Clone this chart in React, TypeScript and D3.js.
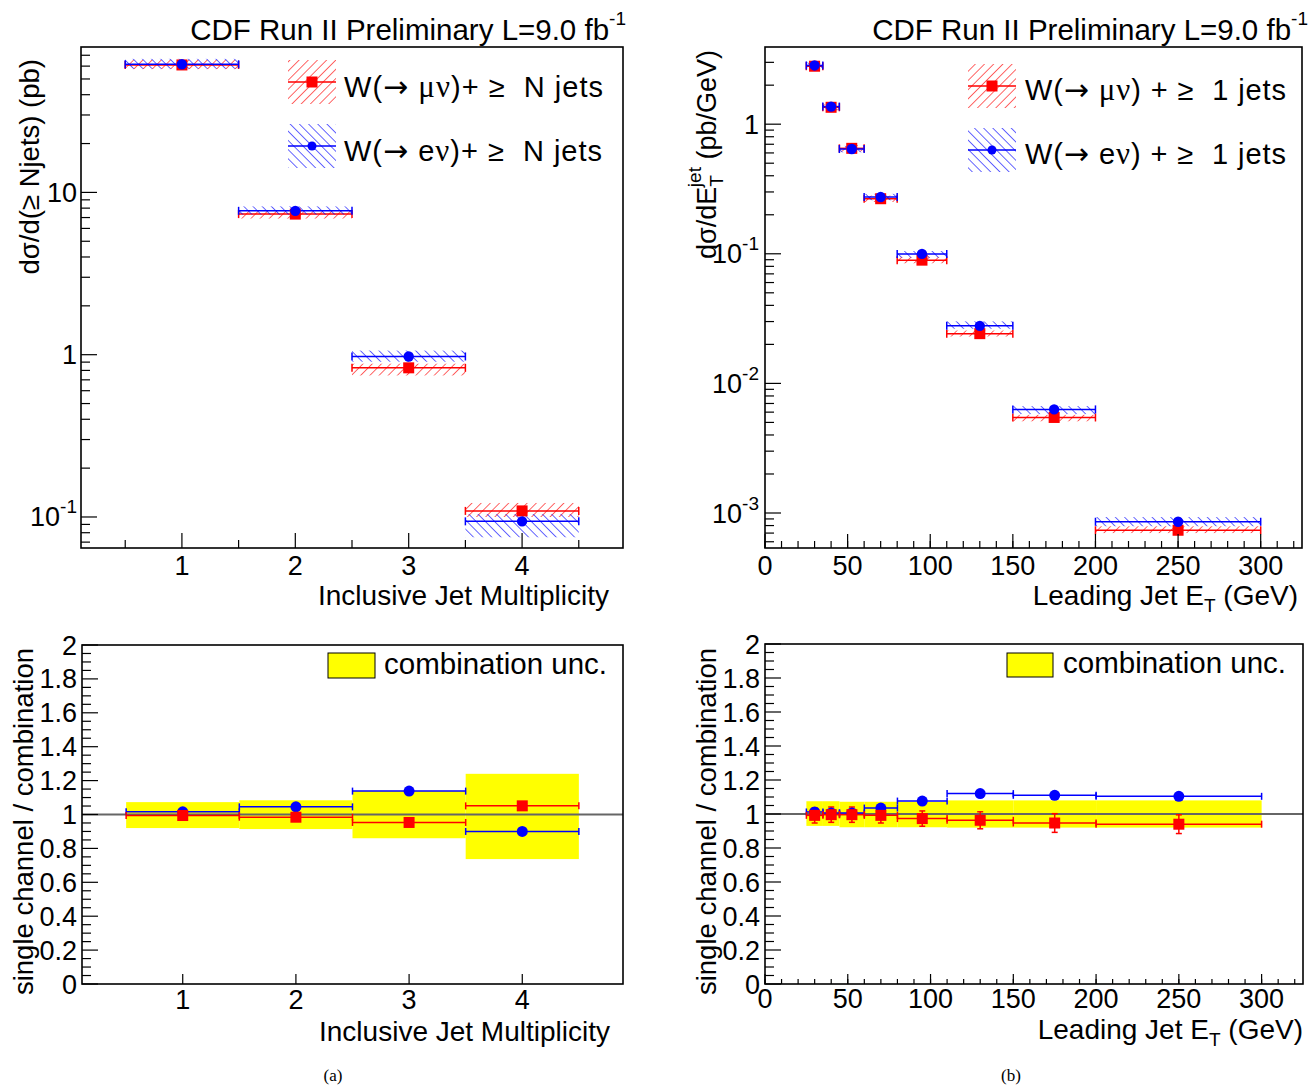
import React from "react";
import * as d3 from "d3";

// ---------------- DATA ----------------
// (a) inclusive jet multiplicity
const njetBins = [1, 2, 3, 4];
const njetMuXsec = [61.0, 7.35, 0.83, 0.109];
const njetMuLo = [57.5, 6.9, 0.745, 0.1];
const njetMuHi = [65.5, 7.72, 0.88, 0.122];
const njetElXsec = [61.6, 7.7, 0.975, 0.094];
const njetElLo = [57.8, 7.3, 0.905, 0.075];
const njetElHi = [66.5, 8.2, 1.06, 0.104];

const njetRatioEl = [1.016, 1.045, 1.138, 0.9];
const njetRatioMu = [0.994, 0.984, 0.953, 1.051];
const njetCombLo = [0.92, 0.914, 0.86, 0.737];
const njetCombHi = [1.073, 1.084, 1.138, 1.24];

// (b) leading jet ET
const etLo = [25, 35, 45, 60, 80, 110, 150, 200];
const etHi = [35, 45, 60, 80, 110, 150, 200, 300];
const etCenter = [30, 40, 52.5, 70, 95, 130, 175, 250];
const etMuXsec = [2.8, 1.35, 0.651, 0.266, 0.0893, 0.0242, 0.00546, 0.000736];
const etMuLo = [2.65, 1.28, 0.615, 0.251, 0.0845, 0.023, 0.0051, 0.0007];
const etMuHi = [2.95, 1.42, 0.69, 0.281, 0.0945, 0.0256, 0.00572, 0.00079];
const etElXsec = [2.84, 1.367, 0.643, 0.274, 0.0998, 0.0278, 0.0063, 0.000856];
const etElLo = [2.69, 1.29, 0.607, 0.259, 0.0935, 0.0264, 0.0058, 0.00079];
const etElHi = [2.99, 1.44, 0.68, 0.29, 0.105, 0.0301, 0.00668, 0.00093];

const etRatioEl = [1.012, 1.006, 1.006, 1.035, 1.076, 1.12, 1.11, 1.104];
const etRatioMu = [0.992, 0.996, 0.996, 0.992, 0.973, 0.963, 0.947, 0.94];
const etRatioMuErr = [0.045, 0.045, 0.045, 0.045, 0.045, 0.05, 0.055, 0.055];
const etCombLo = [0.93, 0.93, 0.922, 0.922, 0.922, 0.92, 0.92, 0.92];
const etCombHi = [1.075, 1.075, 1.072, 1.072, 1.072, 1.08, 1.08, 1.08];

// tick labels
const njetTickLabels = [1, 2, 3, 4];
const etTickLabels = [0, 50, 100, 150, 200, 250, 300];
const ratioTickLabels = [0, 0.2, 0.4, 0.6, 0.8, 1, 1.2, 1.4, 1.6, 1.8, 2];
const njetLogTickLabels = [10, 1, 0.1];
const etLogTickLabels = [1, 0.1, 0.01, 0.001];

const FONT = "'Liberation Sans', Arial, Helvetica, sans-serif";
const SERIF = "'Liberation Serif', 'DejaVu Serif', serif";
const ARROWF = "'DejaVu Sans', sans-serif";
const RED = "#ff0000";
const BLUE = "#0000ff";

type Fr = { left: number; right: number; top: number; bottom: number };

function logTicks(lo: number, hi: number) {
  const out: { v: number; major: boolean }[] = [];
  for (let k = Math.floor(Math.log10(lo)); k <= Math.ceil(Math.log10(hi)); k++) {
    for (let m = 1; m <= 9; m++) {
      const v = m * Math.pow(10, k);
      if (v >= lo && v <= hi) out.push({ v, major: m === 1 });
    }
  }
  return out;
}

function FrameRect({ f }: { f: Fr }) {
  return (
    <rect x={f.left} y={f.top} width={f.right - f.left} height={f.bottom - f.top}
      fill="none" stroke="#000" strokeWidth={1.6} />
  );
}

function XTicks({ f, x, majors, minors, majLen, minLen }: any) {
  return (
    <g stroke="#000" strokeWidth={1.2}>
      {minors.map((v: number, i: number) => (
        <line key={"m" + i} x1={x(v)} x2={x(v)} y1={f.bottom} y2={f.bottom - minLen} />
      ))}
      {majors.map((v: number, i: number) => (
        <line key={"M" + i} x1={x(v)} x2={x(v)} y1={f.bottom} y2={f.bottom - majLen} />
      ))}
    </g>
  );
}

function YTicksLog({ f, y }: any) {
  const [lo, hi] = y.domain();
  return (
    <g stroke="#000" strokeWidth={1.2}>
      {logTicks(lo, hi).map((t, i) => (
        <line key={i} x1={f.left} x2={f.left + (t.major ? 16 : 9)} y1={y(t.v)} y2={y(t.v)} />
      ))}
    </g>
  );
}

function YTicksLin({ f, y }: any) {
  const vals = d3.range(0, 41).map((i) => i * 0.05);
  return (
    <g stroke="#000" strokeWidth={1.2}>
      {vals.map((v, i) => (
        <line key={i} x1={f.left} x2={f.left + (i % 4 === 0 ? 16 : 9)} y1={y(v)} y2={y(v)} />
      ))}
    </g>
  );
}

function LogLabel({ x, y, v }: { x: number; y: number; v: number }) {
  const e = Math.round(Math.log10(v));
  if (e === 0) return <text x={x} y={y} textAnchor="end">1</text>;
  if (e === 1) return <text x={x} y={y} textAnchor="end">10</text>;
  return (
    <text x={x} y={y} textAnchor="end">
      10<tspan dy={-13} fontSize={19}>{String(e)}</tspan>
    </text>
  );
}

function HatchBand({ x0, x1, yv, ylo, yhi, color, pat }: any) {
  return (
    <g>
      <rect x={x0} y={yhi} width={x1 - x0} height={Math.max(ylo - yhi, 1)} fill={`url(#${pat})`} />
      <line x1={x0} x2={x1} y1={yv} y2={yv} stroke={color} strokeWidth={1.5} />
      <line x1={x0} x2={x0} y1={yv - 4} y2={yv + 4} stroke={color} strokeWidth={1.5} />
      <line x1={x1} x2={x1} y1={yv - 4} y2={yv + 4} stroke={color} strokeWidth={1.5} />
    </g>
  );
}

function Square({ cx, cy, s = 11 }: any) {
  return <rect x={cx - s / 2} y={cy - s / 2} width={s} height={s} fill={RED} />;
}
function Dot({ cx, cy, r = 5.2 }: any) {
  return <circle cx={cx} cy={cy} r={r} fill={BLUE} />;
}

function HErr({ x0, x1, yv, color }: any) {
  return (
    <g stroke={color} strokeWidth={1.5}>
      <line x1={x0} x2={x1} y1={yv} y2={yv} />
      <line x1={x0} x2={x0} y1={yv - 3.5} y2={yv + 3.5} />
      <line x1={x1} x2={x1} y1={yv - 3.5} y2={yv + 3.5} />
    </g>
  );
}

function VErr({ xv, y0, y1, color }: any) {
  return (
    <g stroke={color} strokeWidth={1.5}>
      <line x1={xv} x2={xv} y1={y0} y2={y1} />
      <line x1={xv - 3} x2={xv + 3} y1={y0} y2={y0} />
      <line x1={xv - 3} x2={xv + 3} y1={y1} y2={y1} />
    </g>
  );
}

function LegendText({ x, y, lep, tail, len }: { x: number; y: number; lep: string; tail: string; len: number }) {
  return (
    <text x={x} y={y} fontSize={29} style={{ whiteSpace: "pre" }} textLength={len} lengthAdjust="spacing">
      W(<tspan fontFamily={ARROWF} fontSize={30}>→</tspan>{" "}
      {lep === "mu" ? (
        <tspan fontFamily={SERIF} fontSize={31}>μν</tspan>
      ) : (
        <>e<tspan fontFamily={SERIF} fontSize={31}>ν</tspan></>
      )}
      {tail}
    </text>
  );
}

export default function App() {
  const TL: Fr = { left: 81, right: 623, top: 47, bottom: 548 };
  const TR: Fr = { left: 765, right: 1302, top: 47, bottom: 548 };
  const BL: Fr = { left: 82, right: 623, top: 645, bottom: 984 };
  const BR: Fr = { left: 765, right: 1303, top: 644, bottom: 984 };

  const xTL = d3.scaleLinear().domain([0.11, 4.89]).range([TL.left, TL.right]);
  const yTL = d3.scaleLog().domain([0.0644, 78.7]).range([TL.bottom, TL.top]);
  const xTR = d3.scaleLinear().domain([0, 325]).range([TR.left, TR.right]);
  const yTR = d3.scaleLog().domain([5.37e-4, 3.94]).range([TR.bottom, TR.top]);
  const xBL = d3.scaleLinear().domain([0.11, 4.89]).range([BL.left, BL.right]);
  const yBL = d3.scaleLinear().domain([0, 2]).range([BL.bottom, BL.top]);
  const xBR = d3.scaleLinear().domain([0, 325]).range([BR.left, BR.right]);
  const yBR = d3.scaleLinear().domain([0, 2]).range([BR.bottom, BR.top]);

  const fmtRatio = (v: number) => (Math.abs(v - Math.round(v)) < 1e-9 ? String(Math.round(v)) : v.toFixed(1));

  const etMinor = d3.range(0, 330, 10);
  const etMajor = d3.range(0, 330, 50);

  return (
    <div style={{ position: "absolute", left: 0, top: 0 }}>
      <svg width={1314} height={1087} style={{ display: "block", background: "#fff" }} fontFamily={FONT}>
        <defs>
          <pattern id="hatchRed" patternUnits="userSpaceOnUse" width={6.5} height={6.5} patternTransform="rotate(45)">
            <line x1={0} y1={0} x2={0} y2={6.5} stroke={RED} strokeWidth={1.2} />
          </pattern>
          <pattern id="hatchBlue" patternUnits="userSpaceOnUse" width={6.5} height={6.5} patternTransform="rotate(-45)">
            <line x1={0} y1={0} x2={0} y2={6.5} stroke={BLUE} strokeWidth={1.2} />
          </pattern>
        </defs>
        <rect x={0} y={0} width={1314} height={1087} fill="#fff" />

        {/* ================= TOP LEFT ================= */}
        <g>
          {njetBins.map((b, i) => (
            <HatchBand key={"rm" + i} x0={xTL(b - 0.5)} x1={xTL(b + 0.5)} yv={yTL(njetMuXsec[i])}
              ylo={yTL(njetMuLo[i])} yhi={yTL(njetMuHi[i])} color={RED} pat="hatchRed" />
          ))}
          {njetBins.map((b, i) => (
            <HatchBand key={"be" + i} x0={xTL(b - 0.5)} x1={xTL(b + 0.5)} yv={yTL(njetElXsec[i])}
              ylo={yTL(njetElLo[i])} yhi={yTL(njetElHi[i])} color={BLUE} pat="hatchBlue" />
          ))}
          {njetBins.map((b, i) => (
            <Square key={"sm" + i} cx={xTL(b)} cy={yTL(njetMuXsec[i])} />
          ))}
          {njetBins.map((b, i) => (
            <Dot key={"de" + i} cx={xTL(b)} cy={yTL(njetElXsec[i])} />
          ))}
          <XTicks f={TL} x={xTL} majors={njetTickLabels} minors={[0.5, 1.5, 2.5, 3.5, 4.5]} majLen={15} minLen={8} />
          <YTicksLog f={TL} y={yTL} />
          <FrameRect f={TL} />
          <g fontSize={27}>
            {njetTickLabels.map((v) => (
              <text key={v} x={xTL(v)} y={575} textAnchor="middle">{v}</text>
            ))}
            {njetLogTickLabels.map((v) => (
              <LogLabel key={v} x={77} y={yTL(v) + 9.5} v={v} />
            ))}
          </g>
          <text x={609} y={605} textAnchor="end" fontSize={28}>Inclusive Jet Multiplicity</text>
          <text transform="translate(39,59) rotate(-90)" textAnchor="end" fontSize={27.5}>dσ/d(≥ Njets) (pb)</text>
          <text x={626} y={40} textAnchor="end" fontSize={29.5}>
            CDF Run II Preliminary L=9.0 fb<tspan dy={-15} fontSize={19}>-1</tspan>
          </text>
          {/* legend */}
          <rect x={288} y={60} width={48} height={44} fill="url(#hatchRed)" />
          <line x1={288} x2={336} y1={82} y2={82} stroke={RED} strokeWidth={1.5} />
          <Square cx={312} cy={82} />
          <LegendText x={344} y={97} lep="mu" tail={")+ ≥  N jets"} len={259} />
          <rect x={288} y={124} width={48} height={44} fill="url(#hatchBlue)" />
          <line x1={288} x2={336} y1={146} y2={146} stroke={BLUE} strokeWidth={1.5} />
          <Dot cx={312} cy={146} r={4.5} />
          <LegendText x={344} y={161} lep="e" tail={")+ ≥  N jets"} len={258} />
        </g>

        {/* ================= TOP RIGHT ================= */}
        <g>
          {etCenter.map((c, i) => (
            <HatchBand key={"rm" + i} x0={xTR(etLo[i])} x1={xTR(etHi[i])} yv={yTR(etMuXsec[i])}
              ylo={yTR(etMuLo[i])} yhi={yTR(etMuHi[i])} color={RED} pat="hatchRed" />
          ))}
          {etCenter.map((c, i) => (
            <HatchBand key={"be" + i} x0={xTR(etLo[i])} x1={xTR(etHi[i])} yv={yTR(etElXsec[i])}
              ylo={yTR(etElLo[i])} yhi={yTR(etElHi[i])} color={BLUE} pat="hatchBlue" />
          ))}
          {etCenter.map((c, i) => (
            <Square key={"sm" + i} cx={xTR(c)} cy={yTR(etMuXsec[i])} />
          ))}
          {etCenter.map((c, i) => (
            <Dot key={"de" + i} cx={xTR(c)} cy={yTR(etElXsec[i])} />
          ))}
          <XTicks f={TR} x={xTR} majors={etMajor} minors={etMinor} majLen={14} minLen={7} />
          <YTicksLog f={TR} y={yTR} />
          <FrameRect f={TR} />
          <g fontSize={27}>
            {etTickLabels.map((v) => (
              <text key={v} x={xTR(v)} y={575} textAnchor="middle">{v}</text>
            ))}
            {etLogTickLabels.map((v) => (
              <LogLabel key={v} x={759} y={yTR(v) + 9.5} v={v} />
            ))}
          </g>
          <text x={1298} y={605} textAnchor="end" fontSize={28}>
            Leading Jet E<tspan dy={7} fontSize={19}>T</tspan><tspan dy={-7}> (GeV)</tspan>
          </text>
          <text transform="translate(716,50) rotate(-90)" textAnchor="end" fontSize={27}>
            dσ/dE<tspan dy={7} fontSize={19}>T</tspan><tspan dx={-12} dy={-22} fontSize={19}>jet</tspan><tspan dy={15}>  (pb/GeV)</tspan>
          </text>
          <text x={1308} y={40} textAnchor="end" fontSize={29.5}>
            CDF Run II Preliminary L=9.0 fb<tspan dy={-15} fontSize={19}>-1</tspan>
          </text>
          {/* legend */}
          <rect x={968} y={64} width={48} height={44} fill="url(#hatchRed)" />
          <line x1={968} x2={1016} y1={86} y2={86} stroke={RED} strokeWidth={1.5} />
          <Square cx={992} cy={86} />
          <LegendText x={1025} y={100} lep="mu" tail={") + ≥  1 jets"} len={261} />
          <rect x={968} y={128} width={48} height={44} fill="url(#hatchBlue)" />
          <line x1={968} x2={1016} y1={150} y2={150} stroke={BLUE} strokeWidth={1.5} />
          <Dot cx={992} cy={150} r={4.5} />
          <LegendText x={1025} y={164} lep="e" tail={") + ≥  1 jets"} len={261} />
        </g>

        {/* ================= BOTTOM LEFT ================= */}
        <g>
          {njetBins.map((b, i) => (
            <rect key={"y" + i} x={xBL(b - 0.5)} y={yBL(njetCombHi[i])} width={xBL(b + 0.5) - xBL(b - 0.5)}
              height={yBL(njetCombLo[i]) - yBL(njetCombHi[i])} fill="#ffff00" />
          ))}
          <line x1={BL.left} x2={BL.right} y1={yBL(1)} y2={yBL(1)} stroke="#666" strokeWidth={2} />
          {njetBins.map((b, i) => (
            <HErr key={"eb" + i} x0={xBL(b - 0.5)} x1={xBL(b + 0.5)} yv={yBL(njetRatioEl[i])} color={BLUE} />
          ))}
          {njetBins.map((b, i) => (
            <HErr key={"em" + i} x0={xBL(b - 0.5)} x1={xBL(b + 0.5)} yv={yBL(njetRatioMu[i])} color={RED} />
          ))}
          {njetBins.map((b, i) => (
            <Dot key={"d" + i} cx={xBL(b)} cy={yBL(njetRatioEl[i])} r={5.5} />
          ))}
          {njetBins.map((b, i) => (
            <Square key={"s" + i} cx={xBL(b)} cy={yBL(njetRatioMu[i])} />
          ))}
          <XTicks f={BL} x={xBL} majors={njetTickLabels} minors={[]} majLen={10} minLen={5} />
          <YTicksLin f={BL} y={yBL} />
          <FrameRect f={BL} />
          <g fontSize={27}>
            {njetTickLabels.map((v) => (
              <text key={v} x={xBL(v)} y={1009} textAnchor="middle">{v}</text>
            ))}
            {ratioTickLabels.map((v) => (
              <text key={v} x={77} y={yBL(v) + 9.5} textAnchor="end">{fmtRatio(v)}</text>
            ))}
          </g>
          <text x={610} y={1041} textAnchor="end" fontSize={28}>Inclusive Jet Multiplicity</text>
          <text transform="translate(33,648) rotate(-90)" textAnchor="end" fontSize={27.5}>single channel / combination</text>
          <rect x={328} y={653} width={47} height={25} fill="#ffff00" stroke="#000" strokeWidth={1} />
          <text x={384} y={674} fontSize={29.5}>combination unc.</text>
        </g>

        {/* ================= BOTTOM RIGHT ================= */}
        <g>
          {etCenter.map((c, i) => (
            <rect key={"y" + i} x={xBR(etLo[i])} y={yBR(etCombHi[i])} width={xBR(etHi[i]) - xBR(etLo[i])}
              height={yBR(etCombLo[i]) - yBR(etCombHi[i])} fill="#ffff00" />
          ))}
          <line x1={BR.left} x2={BR.right} y1={yBR(1)} y2={yBR(1)} stroke="#666" strokeWidth={2} />
          {etCenter.map((c, i) => (
            <HErr key={"eb" + i} x0={xBR(etLo[i])} x1={xBR(etHi[i])} yv={yBR(etRatioEl[i])} color={BLUE} />
          ))}
          {etCenter.map((c, i) => (
            <HErr key={"em" + i} x0={xBR(etLo[i])} x1={xBR(etHi[i])} yv={yBR(etRatioMu[i])} color={RED} />
          ))}
          {etCenter.map((c, i) => (
            <VErr key={"vm" + i} xv={xBR(c)} y0={yBR(etRatioMu[i] + etRatioMuErr[i])} y1={yBR(etRatioMu[i] - etRatioMuErr[i])} color={RED} />
          ))}
          {etCenter.map((c, i) => (
            <Dot key={"d" + i} cx={xBR(c)} cy={yBR(etRatioEl[i])} r={5.5} />
          ))}
          {etCenter.map((c, i) => (
            <Square key={"s" + i} cx={xBR(c)} cy={yBR(etRatioMu[i])} />
          ))}
          <XTicks f={BR} x={xBR} majors={etMajor} minors={etMinor} majLen={10} minLen={5} />
          <YTicksLin f={BR} y={yBR} />
          <FrameRect f={BR} />
          <g fontSize={27}>
            {etTickLabels.map((v) => (
              <text key={v} x={xBR(v)} y={1008} textAnchor="middle">{v}</text>
            ))}
            {ratioTickLabels.map((v) => (
              <text key={v} x={760} y={yBR(v) + 9.5} textAnchor="end">{fmtRatio(v)}</text>
            ))}
          </g>
          <text x={1303} y={1039} textAnchor="end" fontSize={28}>
            Leading Jet E<tspan dy={7} fontSize={19}>T</tspan><tspan dy={-7}> (GeV)</tspan>
          </text>
          <text transform="translate(716,648) rotate(-90)" textAnchor="end" fontSize={27.5}>single channel / combination</text>
          <rect x={1007} y={653} width={46} height={24} fill="#ffff00" stroke="#000" strokeWidth={1} />
          <text x={1063} y={673} fontSize={29.5}>combination unc.</text>
        </g>

        {/* captions */}
        <text x={333} y={1081} textAnchor="middle" fontSize={17} fontFamily={SERIF}>(a)</text>
        <text x={1011} y={1081} textAnchor="middle" fontSize={17} fontFamily={SERIF}>(b)</text>
      </svg>
    </div>
  );
}
